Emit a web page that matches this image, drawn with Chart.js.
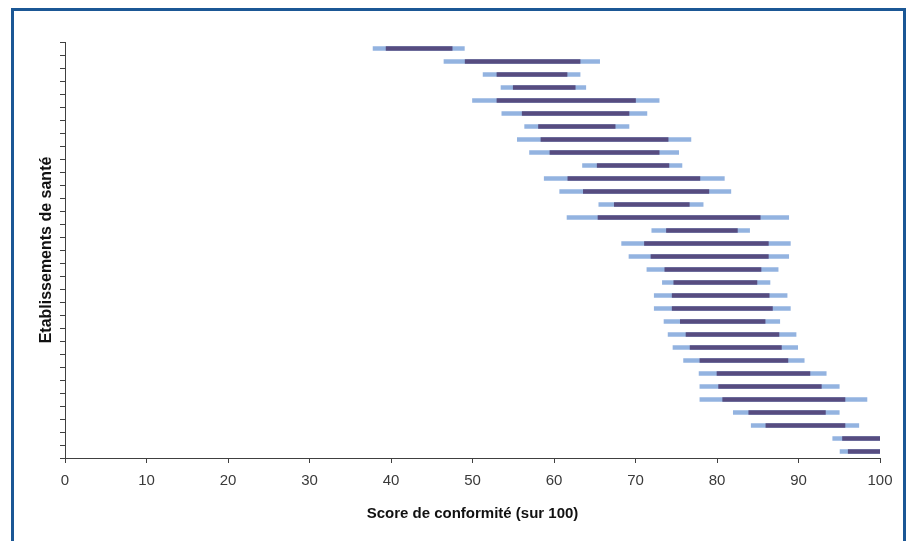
<!DOCTYPE html>
<html lang="fr">
<head>
    <meta charset="UTF-8">
    <title>Scores de conformité</title>
    <script src="https://cdn.jsdelivr.net/npm/chart.js"></script>
    <style>
        html, body { margin: 0; padding: 0; background: #fff; overflow: hidden; }
        .wrap { position: relative; width: 908px; height: 541px; }
        #chart { position: absolute; left: 0; top: 0; }
        .frame {
            position: absolute; left: 11px; top: 8px; width: 889px; height: 600px;
            border: 3px solid #1b5795; pointer-events: none;
        }
    </style>
</head>
<body>
    <div class="wrap">
        <canvas id="chart" width="908" height="541"></canvas>
        <div class="frame"></div>
    </div>

    <script>
        // one row per établissement, top to bottom
        const etablissements = Array.from({ length: 32 }, (_, i) => "É" + (i + 1));

        // outer interval (light blue)
        const outerLow = [37.8, 46.5, 51.3, 53.5, 50.0, 53.6, 56.4, 55.5, 57.0, 63.5, 58.8, 60.7, 65.5, 61.6, 72.0, 68.3,
                          69.2, 71.4, 73.3, 72.3, 72.3, 73.5, 74.0, 74.6, 75.9, 77.8, 77.9, 77.9, 82.0, 84.2, 94.2, 95.1];
        const outerHigh = [49.0, 65.6, 63.2, 63.9, 72.9, 71.4, 69.2, 76.8, 75.3, 75.7, 80.9, 81.7, 78.3, 88.8, 84.0, 89.0,
                           88.8, 87.5, 86.5, 88.6, 89.0, 87.7, 89.7, 89.9, 90.7, 93.4, 95.0, 98.4, 95.0, 97.4, 100, 100];

        // inner interval (dark purple)
        const innerLow = [39.4, 49.1, 53.0, 55.0, 53.0, 56.1, 58.1, 58.4, 59.5, 65.3, 61.7, 63.6, 67.4, 65.4, 73.8, 71.1,
                          71.9, 73.6, 74.7, 74.5, 74.5, 75.5, 76.2, 76.7, 77.9, 80.0, 80.2, 80.7, 83.9, 86.0, 95.4, 96.1];
        const innerHigh = [47.5, 63.2, 61.6, 62.6, 70.0, 69.2, 67.5, 74.0, 72.9, 74.1, 77.9, 79.0, 76.6, 85.3, 82.5, 86.3,
                           86.3, 85.4, 84.9, 86.4, 86.8, 85.9, 87.6, 87.9, 88.7, 91.4, 92.8, 95.7, 93.3, 95.7, 100, 100];

        const xTicks = [0, 10, 20, 30, 40, 50, 60, 70, 80, 90, 100];

        const axisColor = "#404040";
        const tickFont = { family: "'Liberation Sans', Arial, sans-serif", size: 15 };

        const ctx = document.getElementById("chart").getContext("2d");
        new Chart(ctx, {
            type: "bar",
            data: {
                labels: etablissements,
                datasets: [
                    {
                        label: "Intervalle interne",
                        data: innerLow.map((v, i) => [v, innerHigh[i]]),
                        backgroundColor: "#574c80",
                        barThickness: 4,
                        grouped: false
                    },
                    {
                        label: "Intervalle externe",
                        data: outerLow.map((v, i) => [v, outerHigh[i]]),
                        backgroundColor: "#93b3e0",
                        barThickness: 4,
                        grouped: false
                    }
                ]
            },
            options: {
                indexAxis: "y",
                responsive: false,
                animation: false,
                layout: { padding: { left: 33, top: 42, right: 28, bottom: 14 } },
                plugins: { legend: { display: false }, tooltip: { enabled: false } },
                scales: {
                    x: {
                        type: "linear",
                        min: 0,
                        max: 100,
                        afterBuildTicks: axis => { axis.ticks = xTicks.map(v => ({ value: v })); },
                        afterFit: axis => { axis.height = 69; },
                        border: { color: axisColor, width: 1 },
                        grid: { drawOnChartArea: false, tickLength: 5, color: axisColor },
                        ticks: { color: "#3a3a3a", font: tickFont, padding: 9, maxRotation: 0 },
                        title: {
                            display: true,
                            text: "Score de conformité (sur 100)",
                            color: "#111",
                            font: { family: "'Liberation Sans', Arial, sans-serif", size: 15, weight: "bold" },
                            padding: { top: 4, bottom: 4 }
                        }
                    },
                    y: {
                        type: "category",
                        offset: true,
                        afterFit: axis => { axis.width = 32; },
                        border: { color: axisColor, width: 1 },
                        grid: { drawOnChartArea: false, offset: true, tickLength: 5, color: axisColor },
                        ticks: { display: false },
                        title: {
                            display: true,
                            text: "Etablissements de santé",
                            color: "#111",
                            font: { family: "'Liberation Sans', Arial, sans-serif", size: 16, weight: "bold" },
                            padding: { top: 4, bottom: 4 }
                        }
                    }
                }
            }
        });
    </script>
</body>
</html>
